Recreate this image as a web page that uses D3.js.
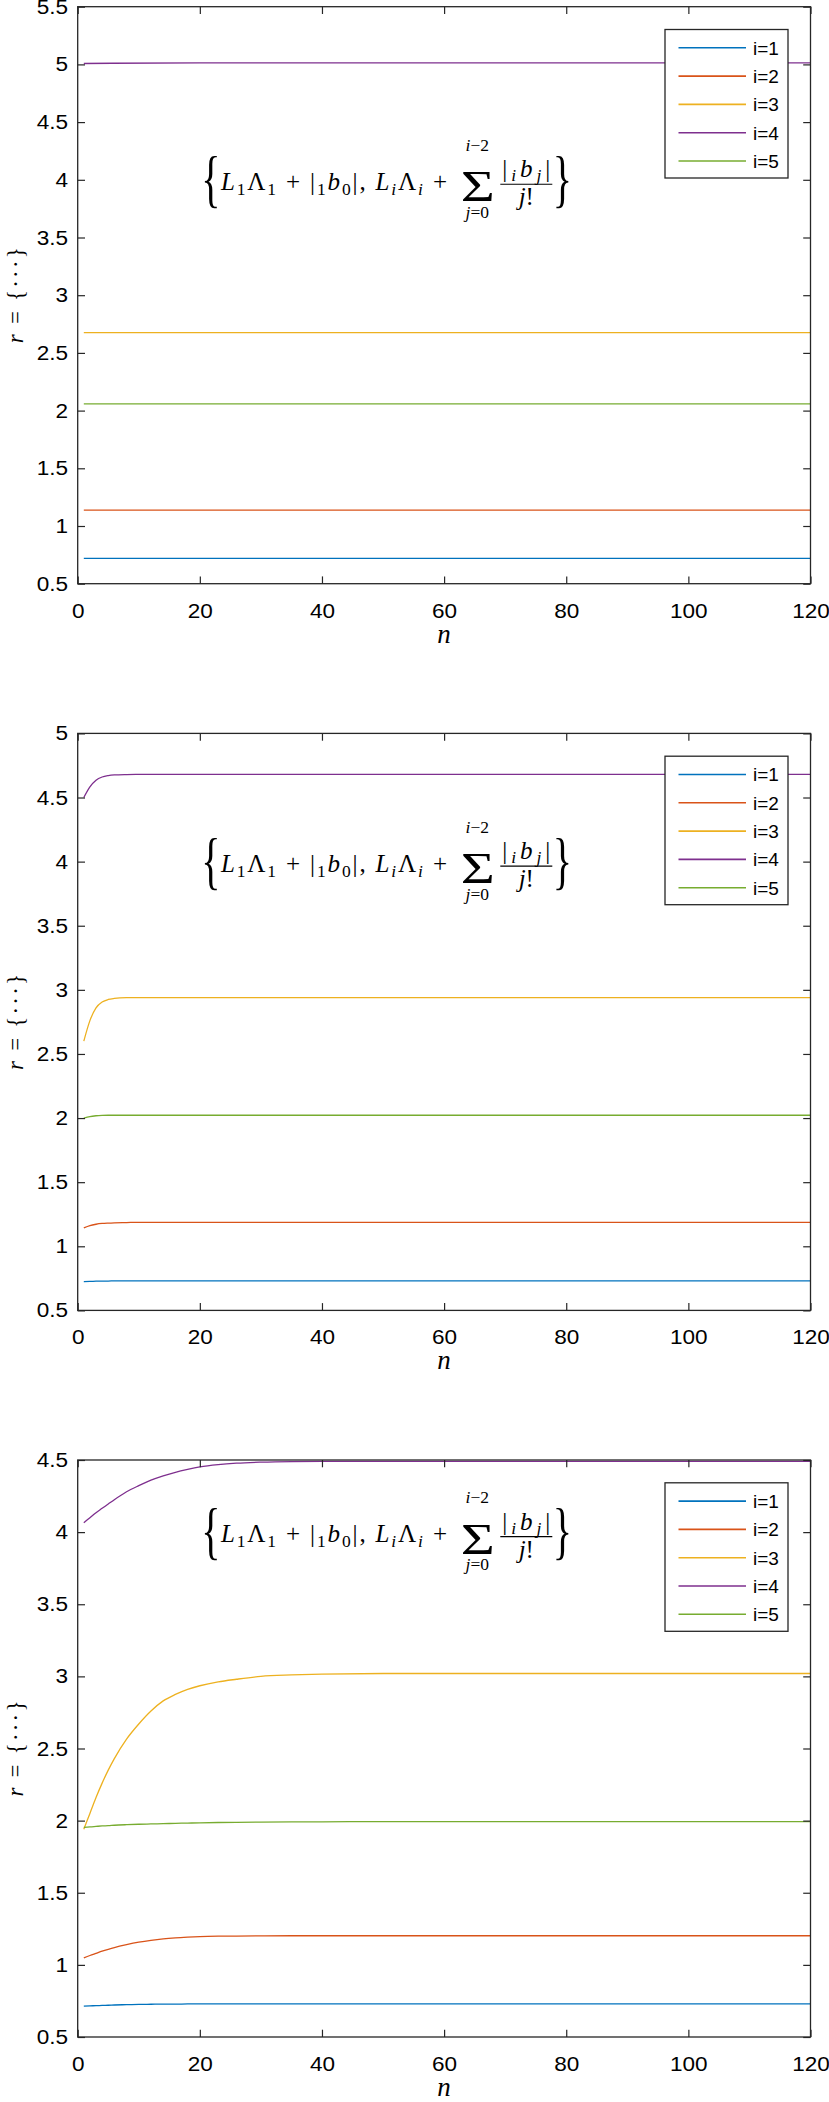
<!DOCTYPE html>
<html><head><meta charset="utf-8">
<script src="https://cdn.jsdelivr.net/npm/d3@7"></script>
<style>body{margin:0;background:#fff}</style>
</head><body>
<svg id="c" width="829" height="2102" xmlns="http://www.w3.org/2000/svg"></svg>
<script>
// ---------- data ----------
const seriesNames = ["i=1", "i=2", "i=3", "i=4", "i=5"];
const colors = ["#0072BD", "#D95319", "#EDB120", "#7E2F8E", "#77AC30"];
const xTicks = [0, 20, 40, 60, 80, 100, 120];

// panel 1
const yTicks1 = [0.5, 1, 1.5, 2, 2.5, 3, 3.5, 4, 4.5, 5, 5.5];
const n1 = [1, 20, 40, 60, 80, 100, 120];
const p1_i1 = [0.72, 0.72, 0.72, 0.72, 0.72, 0.72, 0.72];
const p1_i2 = [1.138, 1.138, 1.138, 1.138, 1.138, 1.138, 1.138];
const p1_i3 = [2.676, 2.676, 2.676, 2.676, 2.676, 2.676, 2.676];
const p1_i4 = [5.008, 5.013, 5.013, 5.013, 5.013, 5.013, 5.013];
const p1_i5 = [2.058, 2.058, 2.058, 2.058, 2.058, 2.058, 2.058];

// panel 2
const yTicks2 = [0.5, 1, 1.5, 2, 2.5, 3, 3.5, 4, 4.5, 5];
const n2 = [1, 2, 3, 4, 5, 6, 8, 10, 15, 20, 30, 40, 60, 80, 100, 120];
const p2_i1 = [0.725, 0.726, 0.728, 0.729, 0.729, 0.73, 0.73, 0.73, 0.73, 0.73, 0.73, 0.73, 0.73, 0.73, 0.73, 0.73];
const p2_i2 = [1.144, 1.162, 1.172, 1.178, 1.181, 1.183, 1.185, 1.187, 1.187, 1.186, 1.186, 1.186, 1.186, 1.186, 1.186, 1.186];
const p2_i3 = [2.60, 2.76, 2.86, 2.905, 2.925, 2.933, 2.939, 2.94, 2.94, 2.94, 2.94, 2.94, 2.94, 2.94, 2.94, 2.94];
const p2_i4 = [4.50, 4.583, 4.635, 4.66, 4.671, 4.676, 4.679, 4.68, 4.681, 4.681, 4.681, 4.681, 4.681, 4.681, 4.681, 4.681];
const p2_i5 = [2.00, 2.012, 2.018, 2.021, 2.022, 2.022, 2.022, 2.022, 2.022, 2.022, 2.022, 2.022, 2.022, 2.022, 2.022, 2.022];

// panel 3
const yTicks3 = [0.5, 1, 1.5, 2, 2.5, 3, 3.5, 4, 4.5];
const n3 = [1, 2, 3, 4, 5, 6, 8, 10, 12, 14, 16, 18, 20, 23, 26, 30, 35, 40, 50, 60, 80, 100, 120];
const p3_i1 = [0.714, 0.716, 0.717, 0.719, 0.720, 0.722, 0.724, 0.726, 0.727, 0.728, 0.728, 0.729, 0.729, 0.729, 0.729, 0.729, 0.729, 0.729, 0.729, 0.729, 0.729, 0.729, 0.729];
const p3_i2 = [1.049, 1.065, 1.08, 1.095, 1.108, 1.12, 1.14, 1.157, 1.17, 1.18, 1.187, 1.192, 1.196, 1.199, 1.2, 1.201, 1.202, 1.202, 1.202, 1.202, 1.202, 1.202, 1.202];
const p3_i3 = [1.94, 2.05, 2.16, 2.26, 2.35, 2.43, 2.565, 2.67, 2.76, 2.83, 2.875, 2.91, 2.935, 2.962, 2.98, 3.0, 3.01, 3.016, 3.02, 3.02, 3.02, 3.02, 3.02];
const p3_i4 = [4.065, 4.10, 4.135, 4.165, 4.195, 4.225, 4.28, 4.322, 4.36, 4.39, 4.415, 4.435, 4.452, 4.468, 4.478, 4.485, 4.489, 4.49, 4.49, 4.49, 4.49, 4.49, 4.49];
const p3_i5 = [1.953, 1.957, 1.96, 1.963, 1.965, 1.968, 1.972, 1.975, 1.977, 1.979, 1.981, 1.983, 1.985, 1.987, 1.988, 1.99, 1.991, 1.992, 1.993, 1.993, 1.993, 1.993, 1.993];

// ---------- layout ----------
const panels = [
  { top: 6.7,   yTicks: yTicks1, n: n1, series: [p1_i1, p1_i2, p1_i3, p1_i4, p1_i5] },
  { top: 733.4, yTicks: yTicks2, n: n2, series: [p2_i1, p2_i2, p2_i3, p2_i4, p2_i5] },
  { top: 1460,  yTicks: yTicks3, n: n3, series: [p3_i1, p3_i2, p3_i3, p3_i4, p3_i5] }
];
const L = 77.7, R = 810.5, H = 577;
const axisColor = "#262626";
const sans = "'Liberation Sans', Arial, Helvetica, sans-serif";
const serif = "'Liberation Serif', 'Times New Roman', serif";
const svg = d3.select("#c");

function formula(g, x0, cy) {
  const base = cy + 10, axis = cy + 4.5;
  const F = 25, S = 17.5;
  const txt = (sel) => sel.attr("font-family", serif).attr("fill", "#000");
  // left brace
  txt(g.append("text")).attr("transform", `translate(${x0 + 7.5},${axis}) scale(1.25,1.95)`)
    .attr("y", 0.25 * 32).attr("text-anchor", "middle").attr("font-size", 32).text("{");
  // main line
  const t = txt(g.append("text")).attr("x", x0 + 17.7).attr("y", base)
    .attr("font-size", F).attr("textLength", 226).attr("lengthAdjust", "spacing");
  const parts = [
    ["L", "i", 0], ["1", "n", 1], ["Λ", "n", 0], ["1", "n", 1], [" + |", "n", 0],
    ["1", "n", 1], ["b", "i", 0], ["0", "n", 1], ["|, ", "n", 0],
    ["L", "i", 0], ["i", "i", 1], ["Λ", "n", 0], ["i", "i", 1], [" +", "n", 0]
  ];
  let prevSub = 0;
  parts.forEach(([s, st, sub]) => {
    const ts = t.append("tspan").text(s).attr("font-style", st === "i" ? "italic" : "normal");
    if (sub) ts.attr("font-size", S);
    const dy = (sub ? 5 : 0) - (prevSub ? 5 : 0);
    if (dy) ts.attr("dy", dy);
    prevSub = sub;
  });
  // summation with limits
  txt(g.append("text")).attr("transform", `translate(${x0 + 274.5},${base + 11.5}) scale(1.3,1)`)
    .attr("text-anchor", "middle").attr("font-size", 45).text("Σ");
  const up = txt(g.append("text")).attr("x", x0 + 274).attr("y", base - 39).attr("text-anchor", "middle")
    .attr("font-size", S);
  up.append("tspan").attr("font-style", "italic").text("i");
  up.append("tspan").text("−2");
  const lo = txt(g.append("text")).attr("x", x0 + 274).attr("y", base + 28).attr("text-anchor", "middle")
    .attr("font-size", S);
  lo.append("tspan").attr("font-style", "italic").text("j");
  lo.append("tspan").text("=0");
  // fraction
  const num = txt(g.append("text")).attr("x", x0 + 323).attr("y", axis - 7).attr("text-anchor", "middle")
    .attr("font-size", F).attr("textLength", 48).attr("lengthAdjust", "spacing");
  num.append("tspan").text("|");
  num.append("tspan").attr("font-style", "italic").attr("font-size", S).attr("dy", 4).text("i");
  num.append("tspan").attr("font-style", "italic").attr("dy", -4).text("b");
  num.append("tspan").attr("font-style", "italic").attr("font-size", S).attr("dy", 4).text("j");
  num.append("tspan").attr("dy", -4).text("|");
  g.append("line").attr("x1", x0 + 297).attr("x2", x0 + 349).attr("y1", axis).attr("y2", axis)
    .attr("stroke", "#000").attr("stroke-width", 1.1);
  const den = txt(g.append("text")).attr("x", x0 + 323).attr("y", axis + 21).attr("text-anchor", "middle")
    .attr("font-size", F);
  den.append("tspan").attr("font-style", "italic").text("j");
  den.append("tspan").text("!");
  // right brace
  txt(g.append("text")).attr("transform", `translate(${x0 + 359},${axis}) scale(1.25,1.95)`)
    .attr("y", 0.25 * 32).attr("text-anchor", "middle").attr("font-size", 32).text("}");
}

panels.forEach((p, pi) => {
  const top = p.top, bottom = top + H;
  const x = d3.scaleLinear().domain([0, 120]).range([L, R]);
  const y = d3.scaleLinear().domain([p.yTicks[0], p.yTicks[p.yTicks.length - 1]]).range([bottom, top]);
  const g = svg.append("g");

  const clipId = "clip" + pi;
  svg.append("clipPath").attr("id", clipId).append("rect")
    .attr("x", L).attr("y", top).attr("width", R - L).attr("height", H);

  const line = d3.line().x(d => x(d[0])).y(d => y(d[1])).curve(d3.curveMonotoneX);
  const lg = g.append("g").attr("clip-path", `url(#${clipId})`);
  p.series.forEach((vals, si) => {
    const pts = p.n.map((nv, k) => [nv, vals[k]]);
    lg.append("path").attr("d", line(pts)).attr("fill", "none")
      .attr("stroke", colors[si]).attr("stroke-width", 1.3);
  });

  // formula annotation (anchored at data y = 4)
  formula(g, 203.3, y(4));

  // axes (inward ticks, box on)
  const tk = 7.3, sx = 1.1;
  const ax = g.append("g").attr("font-family", sans);
  const bAx = ax.append("g").attr("transform", `translate(0,${bottom})`)
    .call(d3.axisBottom(x).tickValues(xTicks).tickSizeInner(-tk).tickSizeOuter(0).tickPadding(19.5).tickFormat(d3.format("d")));
  const tAx = ax.append("g").attr("transform", `translate(0,${top})`)
    .call(d3.axisTop(x).tickValues(xTicks).tickSizeInner(-tk).tickSizeOuter(0).tickFormat(""));
  const lAx = ax.append("g").attr("transform", `translate(${L},0)`)
    .call(d3.axisLeft(y).tickValues(p.yTicks).tickSizeInner(-tk).tickSizeOuter(0).tickPadding(9.7 / sx).tickFormat(d => String(d)));
  const rAx = ax.append("g").attr("transform", `translate(${R},0)`)
    .call(d3.axisRight(y).tickValues(p.yTicks).tickSizeInner(-tk).tickSizeOuter(0).tickFormat(""));
  [bAx, tAx, lAx, rAx].forEach(a => {
    a.select(".domain").remove();
    a.selectAll("line").attr("stroke", axisColor).attr("stroke-width", 1.2);
    a.selectAll("text").attr("fill", "#000").attr("font-size", 20.5).attr("font-family", sans)
      .attr("transform", `scale(${sx},1)`);
  });
  g.append("rect").attr("x", L).attr("y", top).attr("width", R - L).attr("height", H)
    .attr("fill", "none").attr("stroke", axisColor).attr("stroke-width", 1.3);

  // legend
  const lx = 665, ly = top + 22.8, lw = 123, lh = 148.5;
  const leg = g.append("g");
  leg.append("rect").attr("x", lx).attr("y", ly).attr("width", lw).attr("height", lh)
    .attr("fill", "#fff").attr("stroke", axisColor).attr("stroke-width", 1.3);
  seriesNames.forEach((name, si) => {
    const yy = ly + 18.3 + si * 28.3;
    leg.append("line").attr("x1", 678.5).attr("x2", 746).attr("y1", yy).attr("y2", yy)
      .attr("stroke", colors[si]).attr("stroke-width", 1.6);
    leg.append("text").attr("x", 753).attr("y", yy).attr("dy", "0.36em")
      .attr("font-family", sans).attr("font-size", 19).attr("fill", "#000").text(name);
  });

  // axis labels
  const yl = g.append("text").attr("transform", `translate(22.5,${top + H / 2}) rotate(-90)`)
    .attr("text-anchor", "middle").attr("font-family", serif).attr("font-size", 23).attr("fill", "#000")
    .attr("textLength", 96).attr("lengthAdjust", "spacing");
  yl.append("tspan").attr("font-style", "italic").text("r");
  yl.append("tspan").text(" = {···}");
  g.append("text").attr("x", (L + R) / 2).attr("y", bottom + 59).attr("text-anchor", "middle")
    .attr("font-family", serif).attr("font-style", "italic").attr("font-size", 27).attr("fill", "#000").text("n");
});
</script>
</body></html>
